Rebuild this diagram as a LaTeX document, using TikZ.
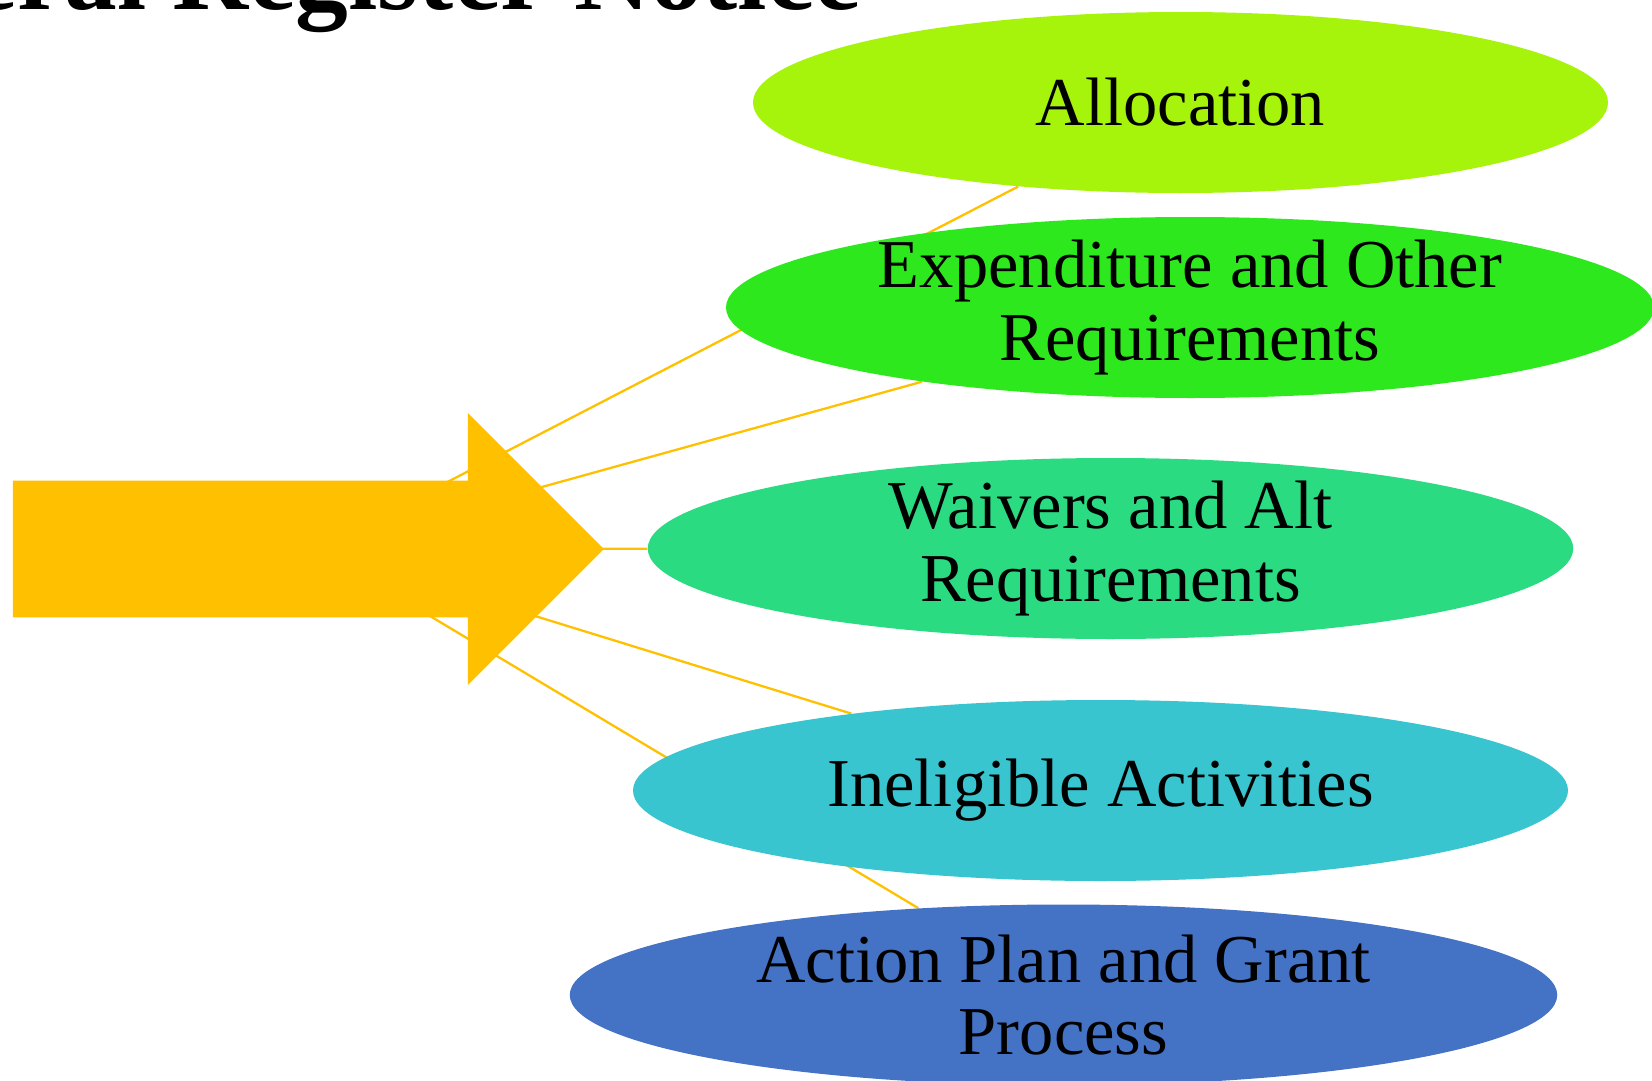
\documentclass[tikz,border=0pt]{standalone}
\usepackage{fontspec}
\setmainfont{Liberation Serif}
\usetikzlibrary{shapes.geometric,shapes.arrows,backgrounds}
\definecolor{NoticeGold}{RGB}{255,192,0}
\definecolor{AllocLime}{RGB}{166,243,12}
\definecolor{ExpGreen}{RGB}{46,232,30}
\definecolor{WaiverMint}{RGB}{42,219,130}
\definecolor{IneligTeal}{RGB}{56,197,207}
\definecolor{PlanBlue}{RGB}{68,114,196}
\tikzset{
  topic/.style={ellipse,minimum height=3.62cm,inner xsep=0pt,inner ysep=-0.15cm,
    align=center,font=\fontsize{39}{41}\selectfont},
  link/.style={draw=NoticeGold,line width=1.3pt},
  bigarrow/.style={single arrow,fill=NoticeGold,inner xsep=0pt,inner ysep=1.36cm,
    minimum height=11.82cm,minimum width=5.42cm,single arrow head extend=1.35cm},
}
\begin{document}
\begin{tikzpicture}
  \useasboundingbox (0,0) rectangle (33.04,-21.62);
  \node[anchor=base east,font=\fontsize{60}{60}\selectfont\bfseries] (title) at (17.34,-0.19) {Federal Register Notice};
  \node[bigarrow,anchor=tail] (notice) at (0.25,-10.98) {};
  \node[topic,fill=AllocLime,minimum width=17.1cm] (alloc) at (23.61,-2.05) {Allocation};
  \node[topic,fill=ExpGreen,minimum width=18.56cm] (expend) at (23.8,-6.15) {Expenditure and Other\\Requirements};
  \node[topic,fill=WaiverMint,minimum width=18.51cm] (waiver) at (22.21,-10.97) {Waivers and Alt\\Requirements};
  \node[topic,fill=IneligTeal,minimum width=18.7cm] (inelig) at (22.01,-15.81) {Ineligible Activities};
  \node[topic,fill=PlanBlue,minimum width=19.75cm] (plan) at (21.27,-19.9) {Action Plan and Grant\\Process};
  \begin{scope}[on background layer]
    \foreach \t in {alloc,expend,waiver,inelig,plan}
      \draw[link] ([xshift=6.11cm]notice.tail) -- (\t);
  \end{scope}
\end{tikzpicture}
\end{document}
